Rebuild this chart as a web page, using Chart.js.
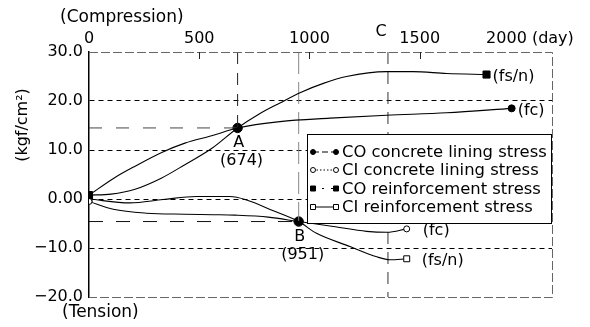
<!DOCTYPE html>
<html><head><meta charset="utf-8">
<script src="https://cdn.jsdelivr.net/npm/chart.js@4/dist/chart.umd.min.js"></script>
<style>html,body{margin:0;padding:0;background:#fff}#wrap{width:590px;height:327px;position:relative}</style>
</head><body><div id="wrap"><canvas id="c" width="590" height="327"></canvas></div>
<script>
// Elapsed time (day) and stress (kgf/cm²) along each measured curve
const coConcreteDays   = [0, 118, 209, 330, 435, 556, 674, 866, 1093, 1350, 1622, 1917];
const coConcreteStress = [0.8, 4.4, 6.7, 9.5, 11.4, 12.9, 14.5, 15.8, 16.5, 17.1, 17.6, 18.5];
const ciConcreteDays   = [0, 110, 261, 435, 563, 662, 813, 951, 1108, 1259, 1352, 1441];
const ciConcreteStress = [-0.5, -2.1, -2.9, -3.1, -3.2, -3.3, -3.7, -4.6, -5.6, -6.6, -6.8, -6.1];
const coRebarDays      = [0, 100, 209, 330, 435, 556, 674, 770, 866, 957, 1063, 1168, 1350, 1470, 1622, 1803];
const coRebarStress    = [0.8, 1.0, 2.0, 4.3, 7.0, 10.3, 14.5, 17.3, 19.6, 21.7, 23.6, 25.0, 26.0, 26.0, 25.6, 25.4];
const ciRebarDays      = [0, 186, 336, 488, 639, 715, 836, 951, 1032, 1184, 1305, 1365, 1441];
const ciRebarStress    = [0.0, -0.8, -0.1, 0.5, 0.5, -0.2, -2.4, -4.6, -7.0, -9.7, -11.8, -12.4, -12.2];

const seriesNames = ['CO concrete lining stress', 'CI concrete lining stress',
                     'CO reinforcement stress', 'CI reinforcement stress'];
const endLabels = ['(fc)', '(fc)', '(fs/n)', '(fs/n)'];

// Marked points A, B and the day of event C
const pointA = {day: 674, stress: 14.5, name: 'A', tag: '(674)'};
const pointB = {day: 951, stress: -4.6, name: 'B', tag: '(951)'};
const dayC = 1356;

// Axis ticks
const xTicks = [0, 500, 1000, 1500, 2000];
const xTickLabels = ['0', '500', '1000', '1500', '2000 (day)'];
const yTicks = [30, 20, 10, 0, -10, -20];
const yTickLabels = ['30.0', '20.0', '10.0', '0.00', '\u221210.0', '\u221220.0'];
const X_MAX = 2100, Y_MIN = -20, Y_MAX = 30;

const FONT = '"DejaVu Sans", sans-serif';
const pts = (xs, ys) => xs.map((d, i) => ({x: d, y: ys[i]}));
const ends = r => c => (c.dataIndex === 0 || c.dataIndex === c.dataset.data.length - 1) ? r : 0;

function curve(xs, ys, style, filled, radius) {
  return {
    data: pts(xs, ys), borderColor: '#000', borderWidth: 1.1,
    cubicInterpolationMode: 'monotone', pointStyle: style,
    pointRadius: ends(radius), pointHoverRadius: 0,
    pointBackgroundColor: filled ? '#000' : '#fff', pointBorderColor: '#000', pointBorderWidth: 1
  };
}
function guide(p, q, dash, color) {
  return {data: [p, q], borderColor: color, borderWidth: 1, borderDash: dash,
          pointRadius: 0, tension: 0};
}

const datasets = [
  curve(coConcreteDays, coConcreteStress, 'circle', true, 3.5),
  curve(ciConcreteDays, ciConcreteStress, 'circle', false, 3),
  curve(coRebarDays, coRebarStress, 'rect', true, 5),
  curve(ciRebarDays, ciRebarStress, 'rect', false, 4.2),
  guide({x: 0, y: pointA.stress}, {x: pointA.day, y: pointA.stress}, [13, 14], '#444'),
  guide({x: pointA.day, y: Y_MAX}, {x: pointA.day, y: pointA.stress}, [12, 9], '#222'),
  guide({x: 0, y: pointB.stress}, {x: pointB.day, y: pointB.stress}, [14, 13], '#111'),
  guide({x: pointB.day, y: Y_MAX}, {x: pointB.day, y: pointB.stress}, [22, 8], '#888'),
  guide({x: dayC, y: Y_MAX}, {x: dayC, y: Y_MIN}, [12, 8], '#333'),
  {data: [{x: pointA.day, y: pointA.stress}, {x: pointB.day, y: pointB.stress}], showLine: false,
   pointRadius: 4.7, pointBackgroundColor: '#000', pointBorderColor: '#000', pointHoverRadius: 0}
];

const decorations = {
  id: 'decorations',
  afterDatasetsDraw(chart) {
    const {ctx, chartArea: a, scales: {x, y}} = chart;
    ctx.save();
    // frame on the top, right and bottom
    ctx.strokeStyle = '#666'; ctx.lineWidth = 1; ctx.setLineDash([9, 3]);
    ctx.beginPath();
    ctx.moveTo(a.left, a.top + 0.5); ctx.lineTo(a.right + 0.5, a.top + 0.5);
    ctx.lineTo(a.right + 0.5, a.bottom + 0.5); ctx.lineTo(a.left, a.bottom + 0.5);
    ctx.stroke();
    // inward tick marks on the day axis
    ctx.setLineDash([]); ctx.strokeStyle = '#222';
    ctx.beginPath();
    for (const v of xTicks.slice(1, 4)) {
      const px = Math.round(x.getPixelForValue(v)) + 0.5;
      ctx.moveTo(px, a.top); ctx.lineTo(px, a.top + 7);
    }
    ctx.stroke();

    // legend box
    const L = a.left + 218, T = a.top + 82, R = a.right - 1, B = T + 89;
    ctx.fillStyle = '#fff'; ctx.fillRect(L, T, R - L, B - T);
    ctx.strokeStyle = '#000'; ctx.lineWidth = 1;
    ctx.strokeRect(L + 0.5, T + 0.5, R - L, B - T);
    const rows = [18, 36, 54.5, 73];
    const dashes = [[6, 3], [1.5, 2], [2, 7], []];
    ctx.font = '16.4px ' + FONT; ctx.textBaseline = 'middle'; ctx.textAlign = 'left';
    seriesNames.forEach((name, i) => {
      const cy = T + rows[i], x1 = L + 6, x2 = L + 29;
      ctx.setLineDash(dashes[i]); ctx.strokeStyle = '#000'; ctx.lineWidth = 1;
      ctx.beginPath(); ctx.moveTo(x1, cy); ctx.lineTo(x2, cy); ctx.stroke();
      ctx.setLineDash([]);
      const filled = i % 2 === 0;
      for (const px of [x1, x2]) {
        ctx.beginPath();
        if (i < 2) ctx.arc(px, cy, 2.5, 0, Math.PI * 2);
        else ctx.rect(px - 2.5, cy - 2.5, 5, 5);
        ctx.fillStyle = filled ? '#000' : '#fff'; ctx.fill(); ctx.stroke();
      }
      ctx.fillStyle = '#000';
      ctx.fillText(name, L + 35, cy + 1);
    });
    ctx.restore();
  },
  afterDraw(chart) {
    const {ctx, chartArea: a, scales: {x, y}} = chart;
    ctx.save();
    ctx.fillStyle = '#000'; ctx.font = '17px ' + FONT;
    ctx.textBaseline = 'middle'; ctx.textAlign = 'left';
    ctx.fillText('(Compression)', 60, 18);
    ctx.fillText('(Tension)', 62, 313);
    ctx.font = '16px ' + FONT;
    ctx.textAlign = 'center';
    ctx.fillText('C', x.getPixelForValue(dayC) - 7, 32);
    for (const p of [pointA, pointB]) {
      const px = x.getPixelForValue(p.day), py = y.getPixelForValue(p.stress);
      ctx.fillText(p.name, px + 1, py + 15);
      ctx.fillText(p.tag, px + 4, py + 33);
    }
    // series end labels
    ctx.textAlign = 'left';
    const sets = [[coConcreteDays, coConcreteStress, 6], [ciConcreteDays, ciConcreteStress, 16],
                  [coRebarDays, coRebarStress, 6], [ciRebarDays, ciRebarStress, 15]];
    sets.forEach(([xs, ys, off], i) => {
      const n = xs.length - 1;
      ctx.fillText(endLabels[i], x.getPixelForValue(xs[n]) + off, y.getPixelForValue(ys[n]) + 2);
    });
    // unit label of the stress axis
    ctx.translate(23, 125); ctx.rotate(-Math.PI / 2);
    ctx.textAlign = 'center';
    ctx.fillText('(kgf/cm\u00B2)', 0, 0);
    ctx.restore();
  }
};

new Chart(document.getElementById('c'), {
  type: 'line',
  data: {datasets},
  plugins: [decorations],
  options: {
    responsive: false, animation: false, devicePixelRatio: 1,
    layout: {padding: {left: 0, top: 0, right: 38, bottom: 30}},
    plugins: {legend: {display: false}, tooltip: {enabled: false}},
    scales: {
      x: {
        type: 'linear', position: 'top', min: 0, max: X_MAX,
        afterFit: s => { s.height = 52; },
        afterBuildTicks: s => { s.ticks = xTicks.map(v => ({value: v})); },
        grid: {display: false, drawTicks: false},
        border: {display: false},
        ticks: {padding: 4, color: '#000', font: {family: FONT, size: 16},
                maxRotation: 0, autoSkip: false,
                callback: v => xTickLabels[xTicks.indexOf(v)]}
      },
      y: {
        type: 'linear', position: 'left', min: Y_MIN, max: Y_MAX,
        afterFit: s => { s.width = 89; },
        afterBuildTicks: s => { s.ticks = yTicks.map(v => ({value: v})); },
        grid: {drawTicks: false, lineWidth: 1,
               color: c => (c.tick && (c.tick.value === Y_MAX || c.tick.value === Y_MIN)) ? 'rgba(0,0,0,0)' : '#000'},
        border: {display: true, color: '#000', width: 1.5, dash: [5, 4]},
        ticks: {padding: 6, color: '#000', font: {family: FONT, size: 16},
                callback: v => yTickLabels[yTicks.indexOf(v)]}
      }
    }
  }
});
</script></body></html>
